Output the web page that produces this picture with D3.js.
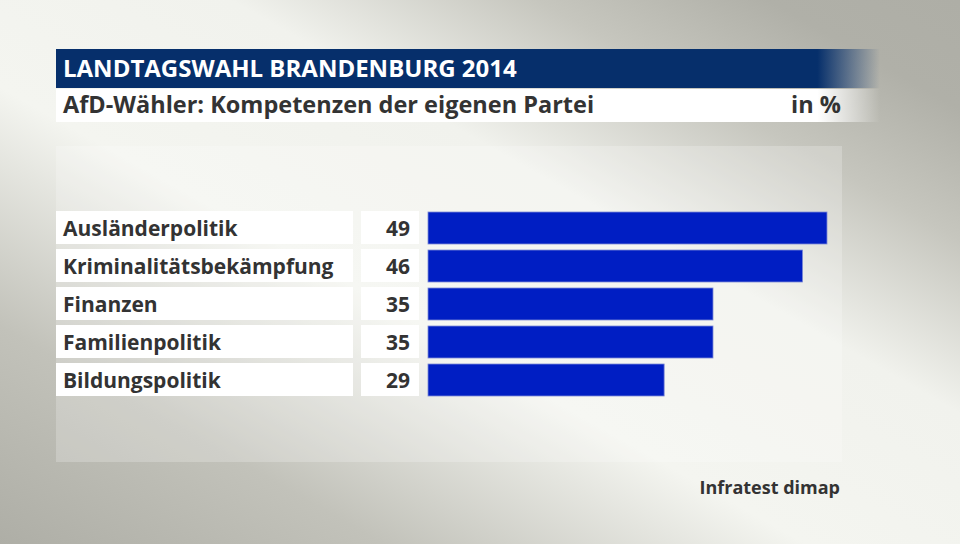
<!DOCTYPE html>
<html>
<head>
<meta charset="utf-8">
<script src="https://cdn.jsdelivr.net/npm/d3@7"></script>
<style>
  html, body { margin: 0; padding: 0; }
  body { width: 960px; height: 544px; overflow: hidden; }
  text { font-family: "Open Sans", "Noto Sans", sans-serif; font-weight: 700; }
</style>
</head>
<body>
<div id="chart"></div>
<script>
const categories = ["Ausländerpolitik", "Kriminalitätsbekämpfung", "Finanzen", "Familienpolitik", "Bildungspolitik"];
const values = [49, 46, 35, 35, 29];
const title = "LANDTAGSWAHL BRANDENBURG 2014";
const subtitle = "AfD-Wähler: Kompetenzen der eigenen Partei";
const unit = "in %";
const source = "Infratest dimap";

const width = 960, height = 544;

const svg = d3.select("#chart").append("svg")
    .attr("width", width)
    .attr("height", height);

const defs = svg.append("defs");

// diagonal background: grey corners, light band through the middle
const bg = defs.append("linearGradient")
    .attr("id", "bg")
    .attr("x1", 0).attr("y1", 1).attr("x2", 1).attr("y2", 0);
bg.append("stop").attr("offset", "0").attr("stop-color", "#aeaea6");
bg.append("stop").attr("offset", "0.2").attr("stop-color", "#c2c2ba");
bg.append("stop").attr("offset", "0.42").attr("stop-color", "#f4f5f0");
bg.append("stop").attr("offset", "0.62").attr("stop-color", "#f1f2ed");
bg.append("stop").attr("offset", "0.78").attr("stop-color", "#c6c6be");
bg.append("stop").attr("offset", "0.9").attr("stop-color", "#b0b0a8");
bg.append("stop").attr("offset", "1").attr("stop-color", "#aeaea6");

// header fades out on the right
const fadeBlue = defs.append("linearGradient").attr("id", "fadeBlue");
fadeBlue.append("stop").attr("offset", "0").attr("stop-color", "#062f6b");
fadeBlue.append("stop").attr("offset", "0.924").attr("stop-color", "#062f6b");
fadeBlue.append("stop").attr("offset", "1").attr("stop-color", "#062f6b").attr("stop-opacity", 0);

const fadeWhite = defs.append("linearGradient").attr("id", "fadeWhite");
fadeWhite.append("stop").attr("offset", "0").attr("stop-color", "#ffffff");
fadeWhite.append("stop").attr("offset", "0.924").attr("stop-color", "#ffffff");
fadeWhite.append("stop").attr("offset", "1").attr("stop-color", "#ffffff").attr("stop-opacity", 0);

svg.append("rect")
    .attr("width", width).attr("height", height)
    .attr("fill", "url(#bg)");

// light panel behind the rows
svg.append("rect")
    .attr("x", 56).attr("y", 146)
    .attr("width", 786).attr("height", 316)
    .attr("fill", "#ffffff").attr("fill-opacity", 0.22);

// header bands
svg.append("rect")
    .attr("x", 56).attr("y", 49)
    .attr("width", 824).attr("height", 39)
    .attr("fill", "url(#fadeBlue)");
svg.append("rect")
    .attr("x", 56).attr("y", 89)
    .attr("width", 824).attr("height", 33)
    .attr("fill", "url(#fadeWhite)");

svg.append("text")
    .attr("x", 63).attr("y", 77)
    .attr("fill", "#ffffff")
    .style("font-size", "24px")
    .text(title);

svg.append("text")
    .attr("x", 63).attr("y", 113)
    .attr("fill", "#333333")
    .style("font-size", "23.5px")
    .text(subtitle);

svg.append("text")
    .attr("x", 841).attr("y", 113)
    .attr("text-anchor", "end")
    .attr("fill", "#333333")
    .style("font-size", "23.5px")
    .text(unit);

// scales
const y = d3.scaleBand()
    .domain(categories)
    .range([211, 396])
    .paddingInner(5 / 38)
    .paddingOuter(0);

const x = d3.scaleLinear()
    .domain([0, 49])
    .range([428, 827]);

const rows = svg.selectAll(".row")
    .data(categories.map((c, i) => ({cat: c, val: values[i]})))
    .enter().append("g")
    .attr("class", "row");

// label boxes
rows.append("rect")
    .attr("x", 56)
    .attr("y", d => y(d.cat))
    .attr("width", 297)
    .attr("height", y.bandwidth())
    .attr("fill", "#ffffff");

rows.append("rect")
    .attr("x", 361)
    .attr("y", d => y(d.cat))
    .attr("width", 58)
    .attr("height", y.bandwidth())
    .attr("fill", "#ffffff");

rows.append("text")
    .attr("x", 63)
    .attr("y", d => y(d.cat) + y.bandwidth() / 2 + 8.5)
    .attr("fill", "#333333")
    .style("font-size", "21px")
    .text(d => d.cat);

rows.append("text")
    .attr("x", 410)
    .attr("y", d => y(d.cat) + y.bandwidth() / 2 + 8.5)
    .attr("text-anchor", "end")
    .attr("fill", "#333333")
    .style("font-size", "21px")
    .text(d => d.val);

// bars
rows.append("rect")
    .attr("class", "bar")
    .attr("x", x(0))
    .attr("y", d => y(d.cat) + 1)
    .attr("width", d => x(d.val) - x(0))
    .attr("height", y.bandwidth() - 1)
    .attr("fill", "#001ec3")
    .attr("stroke", "#7d8ad6")
    .attr("stroke-width", 0.8);

svg.append("text")
    .attr("x", 840).attr("y", 494)
    .attr("text-anchor", "end")
    .attr("fill", "#333333")
    .style("font-size", "18px")
    .text(source);
</script>
</body>
</html>
